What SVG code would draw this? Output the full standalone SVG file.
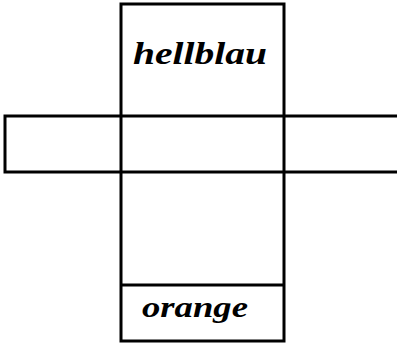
<svg xmlns="http://www.w3.org/2000/svg" width="397" height="346" viewBox="0 0 397 346">
<style>
.ln{fill:none;stroke:#000;stroke-width:3;stroke-linejoin:miter}
.lbl{font-family:"Liberation Serif","DejaVu Serif",serif;font-style:italic;font-weight:bold;fill:#000}
</style>
<rect width="397" height="346" fill="#fff"/>
<g id="connectors">
<path class="ln" d="M400,116 H5 V172 H400"/>
<path class="ln" d="M121,4 H284 V341 H121 Z"/>
<path class="ln" d="M121,285 H284"/>
</g>
<g id="hellblau">
<text class="lbl" x="200" y="64" font-size="32" text-anchor="middle" textLength="134" lengthAdjust="spacingAndGlyphs">hellblau</text>
</g>
<g id="orange">
<text class="lbl" x="195" y="317" font-size="30" text-anchor="middle" textLength="106" lengthAdjust="spacingAndGlyphs">orange</text>
</g>
</svg>
